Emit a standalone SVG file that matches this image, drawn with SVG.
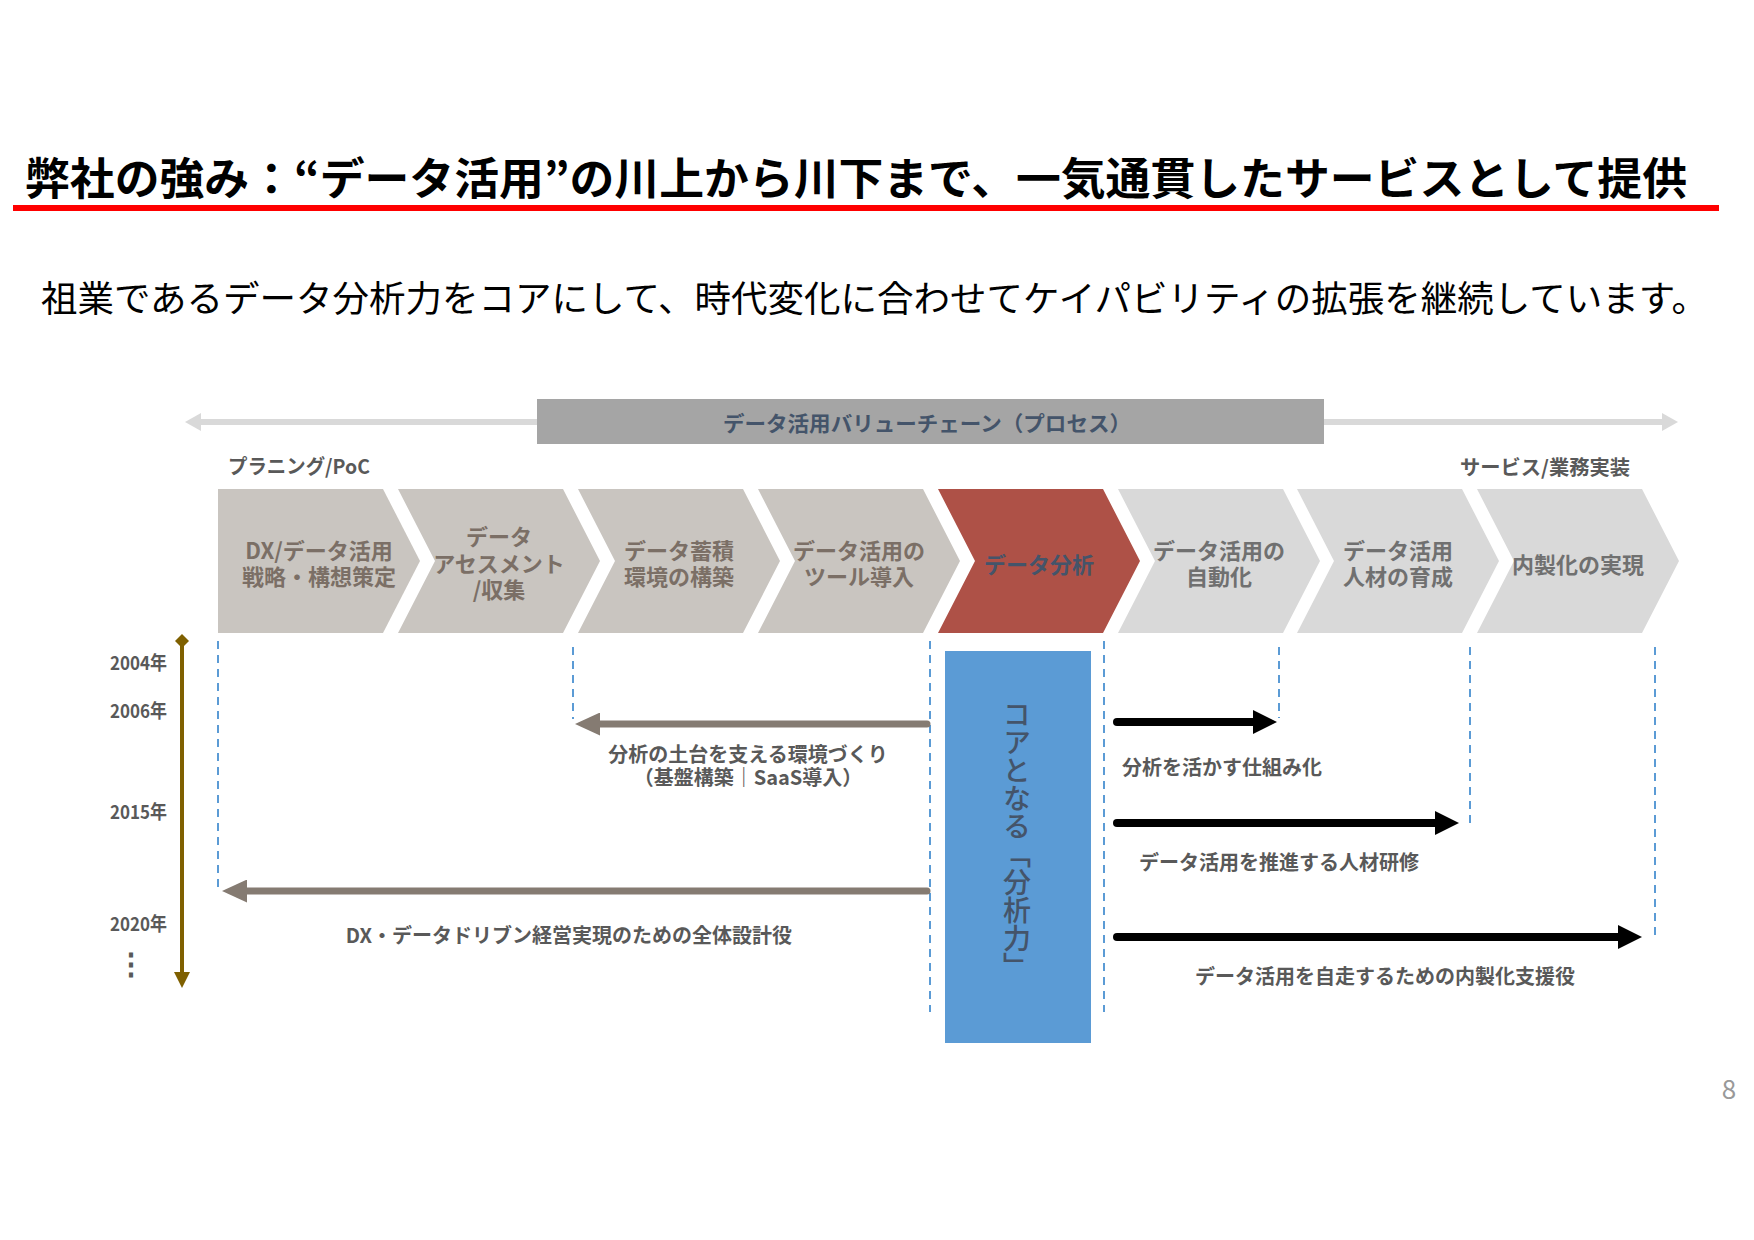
<svg xmlns="http://www.w3.org/2000/svg" width="1754" height="1240" viewBox="0 0 1754 1240">
<style>
text{font-family:"Noto Sans CJK JP","Noto Sans",sans-serif;dominant-baseline:central}
.title{font-size:44px;font-weight:700;fill:#000}
.sub{font-size:36px;font-weight:400;fill:#000}
.ch{font-size:22px;font-weight:700;text-anchor:middle}
.chw{fill:#7b6f66}
.chl{fill:#707070}
.lbl{font-size:20px;font-weight:700;fill:#595959}
.yr{font-size:19px;font-weight:700;fill:#595959;text-anchor:end}
.dash{stroke:#5b9bd5;stroke-width:2;stroke-dasharray:8 6;fill:none}
.warm{fill:#c9c5c0}
.light{fill:#d9d9d9}
</style>
<defs>
<marker id="hb" markerUnits="userSpaceOnUse" markerWidth="25" markerHeight="23" viewBox="0 0 25 23" refX="0" refY="11.5" orient="auto"><path d="M0,0 L25,11.5 L0,23 Z" fill="#857b72"/></marker>
<marker id="hk" markerUnits="userSpaceOnUse" markerWidth="24" markerHeight="24" viewBox="0 0 24 24" refX="0" refY="12" orient="auto"><path d="M0,0 L24,12 L0,24 Z" fill="#000"/></marker>
<marker id="hg" markerUnits="userSpaceOnUse" markerWidth="16" markerHeight="18" viewBox="0 0 16 18" refX="0" refY="9" orient="auto-start-reverse"><path d="M0,0 L16,9 L0,18 Z" fill="#d9d9d9"/></marker>
</defs>
<rect width="1754" height="1240" fill="#fff"/>

<g id="title">
<text class="title" x="25" y="176" textLength="1662" lengthAdjust="spacingAndGlyphs">弊社の強み：“データ活用”の川上から川下まで、一気通貫したサービスとして提供</text>
<rect x="13" y="205" width="1706" height="6" fill="#ff0000"/>
</g>
<g id="subtitle">
<text class="sub" x="41" y="296" textLength="1667" lengthAdjust="spacingAndGlyphs">祖業であるデータ分析力をコアにして、時代変化に合わせてケイパビリティの拡張を継続しています。</text>
</g>

<g id="valuechain-arrow">
<line x1="201" y1="422" x2="1662" y2="422" stroke="#d9d9d9" stroke-width="6" marker-start="url(#hg)" marker-end="url(#hg)"/>
</g>
<g id="banner">
<rect x="537" y="399" width="787" height="45" fill="#a5a5a5"/>
<text x="927" y="422" font-size="21" font-weight="700" fill="#44546a" text-anchor="middle" textLength="408" lengthAdjust="spacingAndGlyphs">データ活用バリューチェーン（プロセス）</text>
</g>
<g id="label-planning"><text class="lbl" x="228" y="465" font-size="19" textLength="142" lengthAdjust="spacingAndGlyphs">プラニング/PoC</text></g>
<g id="label-service"><text class="lbl" x="1630" y="466" font-size="19" text-anchor="end" textLength="170" lengthAdjust="spacingAndGlyphs">サービス/業務実装</text></g>

<g id="step1"><path class="warm" d="M218,489 H383 L420,561 L383,633 H218 Z"/>
<text class="ch chw" x="319" y="549">DX/データ活用</text><text class="ch chw" x="319" y="575">戦略・構想策定</text></g>
<g id="step2"><path class="warm" d="M398,489 H563 L600,561 L563,633 H398 L435,561 Z"/>
<text class="ch chw" x="499" y="535">データ</text><text class="ch chw" x="499" y="562">アセスメント</text><text class="ch chw" x="499" y="588">/収集</text></g>
<g id="step3"><path class="warm" d="M578,489 H743 L780,561 L743,633 H578 L615,561 Z"/>
<text class="ch chw" x="679" y="549">データ蓄積</text><text class="ch chw" x="679" y="575">環境の構築</text></g>
<g id="step4"><path class="warm" d="M758,489 H923 L960,561 L923,633 H758 L795,561 Z"/>
<text class="ch chw" x="859" y="549">データ活用の</text><text class="ch chw" x="859" y="575">ツール導入</text></g>
<g id="step5"><path fill="#ae5147" d="M938,489 H1103 L1140,561 L1103,633 H938 L975,561 Z"/>
<text class="ch" fill="#44546a" x="1039" y="563">データ分析</text></g>
<g id="step6"><path class="light" d="M1118,489 H1283 L1320,561 L1283,633 H1118 L1155,561 Z"/>
<text class="ch chl" x="1219" y="549">データ活用の</text><text class="ch chl" x="1219" y="575">自動化</text></g>
<g id="step7"><path class="light" d="M1297,489 H1462 L1499,561 L1462,633 H1297 L1334,561 Z"/>
<text class="ch chl" x="1398" y="549">データ活用</text><text class="ch chl" x="1398" y="575">人材の育成</text></g>
<g id="step8"><path class="light" d="M1477,489 H1642 L1679,561 L1642,633 H1477 L1514,561 Z"/>
<text class="ch chl" x="1578" y="563">内製化の実現</text></g>

<g id="timeline">
<line x1="182" y1="643" x2="182" y2="974" stroke="#7f6000" stroke-width="4"/>
<polygon points="182,634 189,641 182,648 175,641" fill="#7f6000"/>
<polygon points="174,972 190,972 182,988" fill="#7f6000"/>
<text class="yr" x="167" y="661" textLength="57" lengthAdjust="spacingAndGlyphs">2004年</text>
<text class="yr" x="167" y="709" textLength="57" lengthAdjust="spacingAndGlyphs">2006年</text>
<text class="yr" x="167" y="810" textLength="57" lengthAdjust="spacingAndGlyphs">2015年</text>
<text class="yr" x="167" y="922" textLength="57" lengthAdjust="spacingAndGlyphs">2020年</text>
<text x="131" y="961" font-size="30" font-weight="900" fill="#595959" text-anchor="middle">⋮</text>
</g>

<g id="core">
<rect x="945" y="651" width="146" height="392" fill="#5b9bd5"/>
<text x="1017" y="840" font-size="28" font-weight="500" fill="#44546a" text-anchor="middle" style="writing-mode:vertical-rl">コアとなる「分析力」</text>
</g>

<g id="connectors">
<line class="dash" x1="218" y1="641" x2="218" y2="889"/>
<line class="dash" x1="573" y1="647" x2="573" y2="719"/>
<line class="dash" x1="930" y1="641" x2="930" y2="1012"/>
<line class="dash" x1="1104" y1="641" x2="1104" y2="1012"/>
<line class="dash" x1="1279" y1="647" x2="1279" y2="718"/>
<line class="dash" x1="1470" y1="647" x2="1470" y2="824"/>
<line class="dash" x1="1655" y1="647" x2="1655" y2="937"/>
<line x1="927" y1="724" x2="600" y2="724" stroke="#857b72" stroke-width="7" stroke-linecap="round" marker-end="url(#hb)"/>
<line x1="927" y1="891" x2="247" y2="891" stroke="#857b72" stroke-width="7" stroke-linecap="round" marker-end="url(#hb)"/>
<line x1="1117" y1="722" x2="1253" y2="722" stroke="#000" stroke-width="8" stroke-linecap="round" marker-end="url(#hk)"/>
<line x1="1117" y1="823" x2="1435" y2="823" stroke="#000" stroke-width="8" stroke-linecap="round" marker-end="url(#hk)"/>
<line x1="1117" y1="937" x2="1618" y2="937" stroke="#000" stroke-width="8" stroke-linecap="round" marker-end="url(#hk)"/>
</g>

<g id="labels">
<text class="lbl" x="748" y="753" text-anchor="middle">分析の土台を支える環境づくり</text>
<text class="lbl" x="748" y="776" text-anchor="middle">（基盤構築｜SaaS導入）</text>
<text class="lbl" x="569" y="934" text-anchor="middle">DX・データドリブン経営実現のための全体設計役</text>
<text class="lbl" x="1122" y="766">分析を活かす仕組み化</text>
<text class="lbl" x="1139" y="861">データ活用を推進する人材研修</text>
<text class="lbl" x="1195" y="975">データ活用を自走するための内製化支援役</text>
</g>

<g id="page"><text x="1729" y="1087" font-size="26" fill="#999" text-anchor="middle">8</text></g>
</svg>
